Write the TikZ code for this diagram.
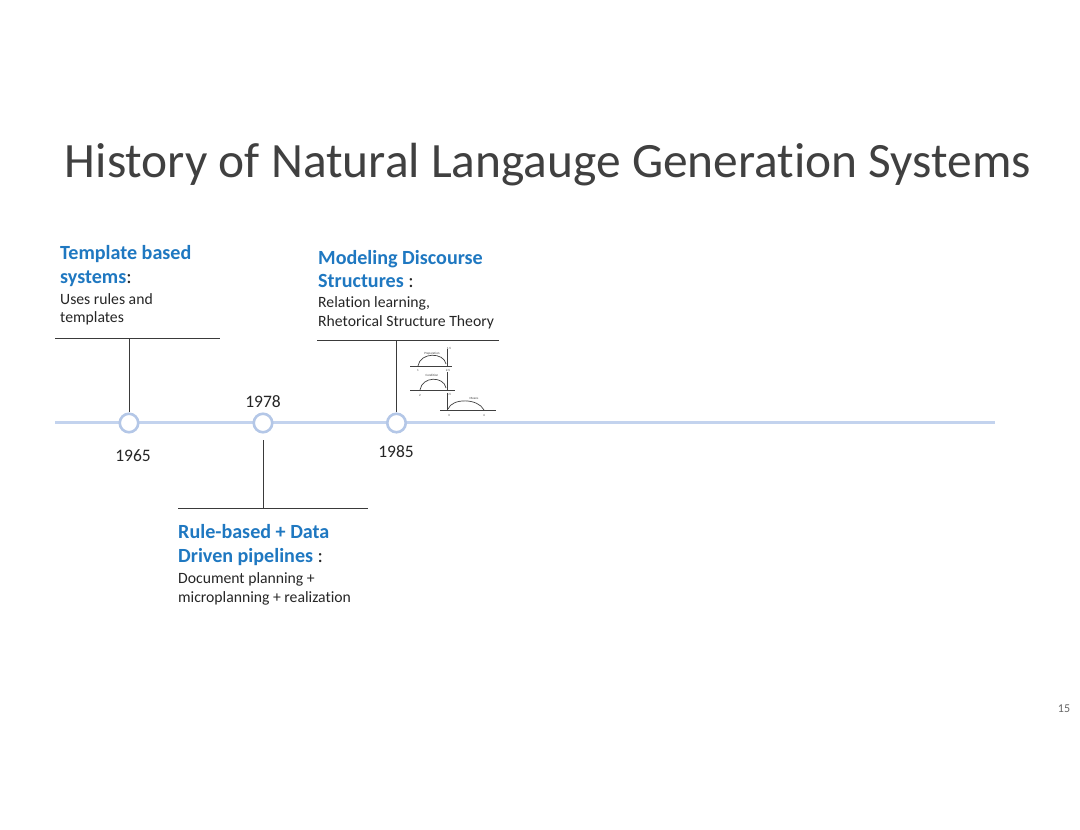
\documentclass[tikz,border=0pt]{standalone}
\usepackage{fontspec}
\setmainfont{Carlito}[Ligatures=NoCommon]
\definecolor{headblue}{HTML}{1F78C1}
\definecolor{titlegray}{HTML}{404040}
\definecolor{txtgray}{HTML}{262626}
\definecolor{tlblue}{HTML}{C3D3EE}
\definecolor{cblue}{HTML}{B4C7E7}
\definecolor{linegray}{HTML}{3A3A3A}
\tikzset{
  head/.style={anchor=base west, inner sep=0, text=headblue, font=\fontsize{20.1}{24}\selectfont\bfseries},
  body/.style={anchor=base west, inner sep=0, text=txtgray, font=\fontsize{15.7}{19}\selectfont},
  year/.style={anchor=base, inner sep=0, text=txtgray, font=\fontsize{17.5}{20}\selectfont},
  event/.style={circle, draw=cblue, line width=2.6pt, fill=white, minimum size=18.5pt, inner sep=0},
  bar/.style={draw=linegray, line width=1pt},
  tiny/.style={inner sep=0, font=\fontsize{3.2}{3.2}\selectfont, text=black!75},
  rst/.style={draw=black!75, line width=0.7pt}
}
\begin{document}
\begin{tikzpicture}[x=1pt,y=-1pt]
\useasboundingbox (0,0) rectangle (1080,830);
\fill[white] (0,0) rectangle (1080,830);
% title
\node[anchor=base, inner sep=0, text=titlegray, font=\fontsize{49.4}{56}\selectfont] (title) at (548,177) {History of Natural Langauge Generation Systems};
% timeline
\coordinate (tlA) at (55,422.5);
\coordinate (tlB) at (995,422.5);
\draw[draw=tlblue, line width=3pt] (tlA) -- (tlB);
\node[event] (c1) at (129,423) {};
\node[event] (c2) at (263,423) {};
\node[event] (c3) at (396.5,423) {};
% years
\node[year] (y1965) at (133,461) {1965};
\node[year] (y1978) at (263,407) {1978};
\node[year] (y1985) at (396,457) {1985};
% bars
\coordinate (b1L) at (55,338); \coordinate (b1R) at (220,338); \coordinate (b1M) at (129,338);
\draw[bar] (b1L) -- (b1R);
\draw[bar] (b1M) -- (c1.north);
\coordinate (b3L) at (317,340); \coordinate (b3R) at (499,340); \coordinate (b3M) at (396.5,340);
\draw[bar] (b3L) -- (b3R);
\draw[bar] (b3M) -- (c3.north);
\coordinate (b2L) at (178,508); \coordinate (b2R) at (368,508); \coordinate (b2M) at (263,508);
\coordinate (b2T) at (263,440);
\draw[bar] (b2L) -- (b2R);
\draw[bar] (b2T) -- (b2M);
% template block
\node[head] (t1) at (60,259.3) {Template based};
\node[head] (t2) at (60,283) {systems\textcolor{txtgray}{\mdseries:}};
\node[body] (t3) at (60,304.5) {Uses rules and};
\node[body] (t4) at (60,322.5) {templates};
% modeling block
\node[head] (m1) at (318,264) {Modeling Discourse};
\node[head] (m2) at (318,287) {Structures \textcolor{txtgray}{\mdseries:}};
\node[body] (m3) at (318,307) {Relation learning,};
\node[body] (m4) at (318,326) {Rhetorical Structure Theory};
% rule-based block
\node[head] (r1) at (178,538.5) {Rule-based + Data};
\node[head] (r2) at (178,562) {Driven pipelines \textcolor{txtgray}{\mdseries:}};
\node[body] (r3) at (178,583) {Document planning +};
\node[body] (r4) at (178,602) {microplanning + realization};
% page number
\node[anchor=base, inner sep=0, text=black!60, font=\fontsize{12}{14}\selectfont] (pg) at (1064,712) {15};
% small RST figure
\draw[rst] (410,366) -- (452,366);
\draw[rst] (447,349) -- (447,366);
\draw[rst] (418,366) .. controls (420,352) and (444,352) .. (446,364);
\node[tiny] (p1) at (432,354) {Preparation};
\node[tiny] (n15) at (449,348) {1-5};
\node[tiny] (n1) at (418,370) {1};
\node[tiny] (n25) at (448,370) {2-5};
\draw[rst] (410,390) -- (455,390);
\draw[rst] (447,372) -- (447,390);
\draw[rst] (420,390) .. controls (422,376) and (444,376) .. (446,388);
\node[tiny] (p2) at (432,375) {Condition};
\node[tiny] (n2) at (420,395) {2};
\node[tiny] (n35) at (449,394) {3-5};
\draw[rst] (440,410) -- (496,410);
\draw[rst] (447,393) -- (447,410);
\draw[rst] (448,409) .. controls (452,398) and (478,398) .. (484,410);
\node[tiny] (p3) at (474,398) {Means};
\node[tiny] (n3) at (449,415) {3};
\node[tiny] (n4) at (484,415) {4};
\end{tikzpicture}
\end{document}
